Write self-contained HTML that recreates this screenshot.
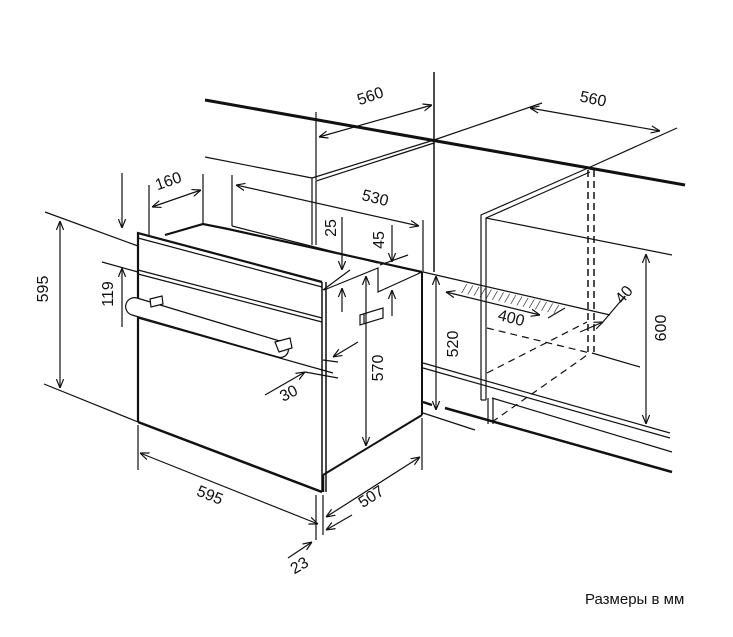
<!DOCTYPE html>
<html><head><meta charset="utf-8"><style>
html,body{margin:0;padding:0;background:#fff;}
svg{display:block;}
text{font-family:"Liberation Sans",sans-serif;font-size:16px;fill:#111;}
</style></head><body>
<svg width="733" height="637" viewBox="0 0 733 637" xmlns="http://www.w3.org/2000/svg">
<defs>
<marker id="a" viewBox="0 0 10 10" refX="10" refY="5" markerWidth="9" markerHeight="9" orient="auto-start-reverse" markerUnits="userSpaceOnUse">
<path d="M0,1 L10,5 L0,9" fill="none" stroke="#111" stroke-width="1.3"/></marker>
<pattern id="h" width="6" height="6" patternUnits="userSpaceOnUse" patternTransform="rotate(30)">
<line x1="0" y1="0" x2="0" y2="6" stroke="#111" stroke-width="1.2"/></pattern>
</defs>
<g stroke="#111" fill="none" stroke-width="1.2">
<line x1="205" y1="100" x2="685" y2="185" stroke-width="3"/>
<line x1="434" y1="72" x2="434" y2="272" stroke-width="1.5"/>
<line x1="205" y1="157" x2="312" y2="178"/>
<polyline points="312,245 312,178 434,140"/>
<polyline points="316,245 316,181 434,143"/>
<line x1="316" y1="112" x2="316" y2="180"/>
<line x1="319" y1="137" x2="432" y2="105" marker-start="url(#a)" marker-end="url(#a)"/>
<line x1="434" y1="140" x2="542" y2="103"/>
<line x1="588" y1="168" x2="677" y2="128"/>
<line x1="530" y1="108" x2="660" y2="131" marker-start="url(#a)" marker-end="url(#a)"/>
<polyline points="481,400 481,215 588,168"/>
<polyline points="486,400 486,218 590,172"/>
<line x1="486" y1="218" x2="672" y2="255"/>
<line x1="486" y1="400" x2="481" y2="400"/>
<line x1="588" y1="170" x2="588" y2="352" stroke-dasharray="7,4" stroke-width="1.5"/>
<line x1="594" y1="170" x2="594" y2="352" stroke-dasharray="7,4" stroke-width="1.5"/>
<line x1="646" y1="254" x2="646" y2="424" marker-start="url(#a)" marker-end="url(#a)"/>
<line x1="423" y1="272" x2="610" y2="315"/>
<polygon points="462,283 560,305 556,314 457,292" fill="url(#h)" stroke="none"/>
<line x1="446" y1="292" x2="540" y2="315" marker-start="url(#a)" marker-end="url(#a)"/>
<line x1="548" y1="318" x2="565" y2="308"/>
<line x1="602" y1="323" x2="625" y2="296"/>
<line x1="580" y1="332" x2="603" y2="322" marker-end="url(#a)"/>
<line x1="592" y1="353" x2="640" y2="367"/>
<line x1="487" y1="328" x2="590" y2="353" stroke-dasharray="7,5"/>
<line x1="487" y1="373" x2="587" y2="322" stroke-dasharray="7,5"/>
<line x1="492" y1="422" x2="590" y2="353" stroke-dasharray="7,5"/>
<line x1="423" y1="363" x2="670" y2="433"/>
<line x1="423" y1="368" x2="670" y2="438"/>
<line x1="492" y1="398" x2="672" y2="452"/>
<line x1="445" y1="408" x2="672" y2="472" stroke-width="2.5"/>
<line x1="423" y1="402" x2="432" y2="405" stroke-width="2.5"/>
<line x1="423" y1="413" x2="475" y2="430"/>
<polyline points="488,398 488,424"/><polyline points="493,398 493,424"/>
<line x1="436" y1="276" x2="436" y2="410" marker-start="url(#a)" marker-end="url(#a)"/>
<polyline points="138,422 138,233 322,282" stroke-width="2.2"/>
<line x1="138" y1="238" x2="322" y2="287"/>
<polyline points="165,235 203,224 228,229 422,272" stroke-width="2.2"/>
<line x1="232" y1="226" x2="378" y2="263"/>
<line x1="138" y1="270" x2="322" y2="318"/>
<line x1="138" y1="274" x2="322" y2="322"/>
<line x1="322" y1="282" x2="322" y2="492" stroke-width="1.5"/>
<line x1="326" y1="282" x2="326" y2="492" stroke-width="1.5"/>
<line x1="138" y1="422" x2="322" y2="492" stroke-width="2.5"/>
<polyline points="324,290 378,268 378,292 422,272"/>
<line x1="422" y1="272" x2="422" y2="415" stroke-width="2"/>
<line x1="323" y1="475" x2="422" y2="415" stroke-width="2"/>
<line x1="323" y1="475" x2="323" y2="492" stroke-width="2.5"/>
<polygon points="360,315 383,308 383,318 360,325"/>
<line x1="364" y1="314" x2="364" y2="324"/>
<line x1="138" y1="318" x2="333" y2="373"/>
<path d="M137,298 L283,342 A7,7 0 0 1 278,357 L132,315 A8.5,8.5 0 0 1 137,298 Z" fill="#fff"/>
<polygon points="150,299 162,296 163,304 151,307" fill="#fff"/>
<polygon points="275,342 290,338 292,348 279,352" fill="#fff"/>
<line x1="45" y1="212" x2="138" y2="246"/>
<line x1="44" y1="384" x2="138" y2="422"/>
<line x1="60" y1="221" x2="60" y2="388" marker-start="url(#a)" marker-end="url(#a)"/>
<line x1="122" y1="173" x2="122" y2="228" marker-end="url(#a)"/>
<line x1="122" y1="327" x2="122" y2="268" marker-end="url(#a)"/>
<line x1="102" y1="262" x2="138" y2="272"/>
<line x1="149" y1="185" x2="149" y2="235"/>
<line x1="203" y1="174" x2="203" y2="224"/>
<line x1="152" y1="207" x2="201" y2="190" marker-start="url(#a)" marker-end="url(#a)"/>
<line x1="232" y1="175" x2="232" y2="226"/>
<line x1="423" y1="220" x2="423" y2="272"/>
<line x1="236" y1="185" x2="419" y2="226" marker-start="url(#a)" marker-end="url(#a)"/>
<line x1="342" y1="217" x2="342" y2="270" marker-end="url(#a)"/>
<line x1="342" y1="312" x2="342" y2="288" marker-end="url(#a)"/>
<line x1="323" y1="290" x2="350" y2="270"/>
<line x1="392" y1="225" x2="392" y2="262" marker-end="url(#a)"/>
<line x1="392" y1="316" x2="392" y2="290" marker-end="url(#a)"/>
<line x1="380" y1="265" x2="408" y2="255"/>
<line x1="366" y1="276" x2="366" y2="446" marker-start="url(#a)" marker-end="url(#a)"/>
<line x1="323" y1="360" x2="338" y2="362"/>
<line x1="358" y1="342" x2="333" y2="357" marker-end="url(#a)"/>
<line x1="265" y1="395" x2="305" y2="372" marker-end="url(#a)"/>
<line x1="305" y1="372" x2="338" y2="378"/>
<line x1="138" y1="425" x2="138" y2="470"/>
<line x1="140" y1="453" x2="318" y2="524" marker-start="url(#a)" marker-end="url(#a)"/>
<line x1="316" y1="495" x2="316" y2="540"/>
<line x1="323" y1="495" x2="323" y2="535"/>
<line x1="422" y1="418" x2="422" y2="470"/>
<line x1="326" y1="517" x2="420" y2="457" marker-start="url(#a)" marker-end="url(#a)"/>
<line x1="326" y1="530" x2="352" y2="515" marker-start="url(#a)"/>
<line x1="288" y1="558" x2="312" y2="542" marker-end="url(#a)"/>
</g>
<text transform="translate(372,101) rotate(-19)" text-anchor="middle">560</text>
<text transform="translate(592,104) rotate(12)" text-anchor="middle">560</text>
<text transform="translate(170,186) rotate(-19)" text-anchor="middle">160</text>
<text transform="translate(374,203) rotate(14)" text-anchor="middle">530</text>
<text transform="translate(336,228) rotate(-90)" text-anchor="middle">25</text>
<text transform="translate(384,240) rotate(-90)" text-anchor="middle">45</text>
<text transform="translate(48,289) rotate(-90)" text-anchor="middle">595</text>
<text transform="translate(113,294) rotate(-90)" text-anchor="middle">119</text>
<text transform="translate(383,368) rotate(-90)" text-anchor="middle">570</text>
<text transform="translate(458,344) rotate(-90)" text-anchor="middle">520</text>
<text transform="translate(666,328) rotate(-90)" text-anchor="middle">600</text>
<text transform="translate(510,323) rotate(14)" text-anchor="middle">400</text>
<text transform="translate(628,298) rotate(-50)" text-anchor="middle">40</text>
<text transform="translate(291,398) rotate(-27)" text-anchor="middle">30</text>
<text transform="translate(208,500) rotate(22)" text-anchor="middle">595</text>
<text transform="translate(374,501) rotate(-33)" text-anchor="middle">507</text>
<text transform="translate(302,570) rotate(-30)" text-anchor="middle">23</text>
<text x="585" y="604" style="font-size:15px">Размеры в мм</text>
</svg>
</body></html>
